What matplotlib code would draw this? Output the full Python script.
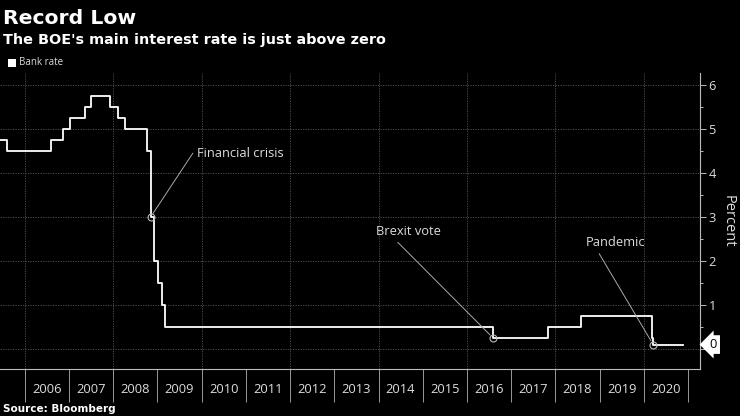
import matplotlib
matplotlib.use("Agg")
import matplotlib.pyplot as plt
import matplotlib.dates as mdates
from matplotlib.ticker import FixedLocator, NullFormatter
import pandas as pd

# Bank of England bank rate, change dates and new levels
change_dates = ["2005-03-01", "2005-08-04", "2006-08-03", "2006-11-09", "2007-01-11",
                "2007-05-10", "2007-07-05", "2007-12-06", "2008-02-07", "2008-04-10",
                "2008-10-08", "2008-11-06", "2008-12-04", "2009-01-08", "2009-02-05",
                "2009-03-05", "2016-08-04", "2017-11-02", "2018-08-02", "2020-03-11",
                "2020-03-19", "2020-11-20"]
bank_rate = [4.75, 4.5, 4.75, 5.0, 5.25, 5.5, 5.75, 5.5, 5.25, 5.0,
             4.5, 3.0, 2.0, 1.5, 1.0, 0.5, 0.25, 0.5, 0.75, 0.25, 0.1, 0.1]

years = list(range(2006, 2021))
y_ticks = [0, 1, 2, 3, 4, 5, 6]
y_labels = ["", "1", "2", "3", "4", "5", "6"]

# events: label, date of marked point, rate at that point
events = ["Financial crisis", "Brexit vote", "Pandemic"]
event_dates = ["2008-11-06", "2016-08-04", "2020-03-19"]
event_rates = [3.0, 0.25, 0.1]

dates = pd.to_datetime(change_dates)
ev_dates = pd.to_datetime(event_dates)

fg = "#dddddd"
grid_c = "#555555"
plt.rcParams['font.family'] = ['Open Sans', 'DejaVu Sans']

fig = plt.figure(figsize=(7.4, 4.16), dpi=100, facecolor="black")
ax = fig.add_axes([0.0, 0.113, 0.946, 0.7115])
ax.set_facecolor("black")

ax.step(dates, bank_rate, where="post", color="white", lw=1.3, zorder=3)
ax.plot(ev_dates, event_rates, "o", ms=5, mfc="none", mec="#bbbbbb", mew=0.8, zorder=4)

# annotation text positions (layout only)
text_pos = [(pd.Timestamp("2009-11-25"), 4.45, "left", (0, 1)),
            (pd.Timestamp("2014-09-01"), 2.68, "center", (0.27, 0)),
            (pd.Timestamp("2019-05-15"), 2.43, "center", (0.17, 0))]
for lab, d, r, (tx, ty, ha, rp) in zip(events, ev_dates, event_rates, text_pos):
    ax.annotate(lab, xy=(d, r), xytext=(tx, ty), ha=ha, va="center",
                color=fg, fontsize=9.3,
                arrowprops=dict(arrowstyle="-", color="#aaaaaa", lw=0.7,
                                relpos=rp, shrinkA=2, shrinkB=3))

ax.set_xlim(pd.Timestamp("2005-06-10"), pd.Timestamp("2021-04-10"))
ax.set_ylim(-0.455, 6.27)

# year separators (major) and centred labels (minor)
year_starts = [pd.Timestamp(f"{y}-01-01") for y in years + [years[-1] + 1]]
year_mids = [pd.Timestamp(f"{y}-07-02") for y in years]
ax.xaxis.set_major_locator(FixedLocator(mdates.date2num(year_starts)))
ax.xaxis.set_major_formatter(NullFormatter())
ax.xaxis.set_minor_locator(FixedLocator(mdates.date2num(year_mids)))
ax.xaxis.set_minor_formatter(plt.FuncFormatter(lambda v, p: str(mdates.num2date(v).year)))
ax.tick_params(axis="x", which="major", length=24, width=0.7, color="#999999", direction="out")
ax.tick_params(axis="x", which="minor", length=0, labelsize=9.3, labelcolor=fg, pad=10)

ax.yaxis.tick_right()
ax.yaxis.set_label_position("right")
ax.set_yticks(y_ticks)
ax.set_yticklabels(y_labels)
ax.set_yticks([0.5, 1.5, 2.5, 3.5, 4.5, 5.5], minor=True)
ax.tick_params(axis="y", which="major", length=4, width=0.7, color="#bbbbbb",
               labelsize=9.3, labelcolor=fg, pad=2)
ax.tick_params(axis="y", which="minor", length=2, width=0.7, color="#bbbbbb")
ax.set_ylabel("Percent", color=fg, fontsize=10.5, rotation=-90, labelpad=14)

# grid: horizontal every unit, vertical every two years
for y in y_ticks:
    ax.axhline(y, color=grid_c, lw=0.6, ls=(0, (1.5, 1.5)), zorder=1)
for y in years[::2]:
    ax.axvline(pd.Timestamp(f"{y}-01-01"), color=grid_c, lw=0.6, ls=(0, (1.5, 1.5)), zorder=1)

for s in ["top", "left"]:
    ax.spines[s].set_visible(False)
for s in ["right", "bottom"]:
    ax.spines[s].set_color("#bbbbbb")
    ax.spines[s].set_linewidth(0.8)

# last value tag
ax.annotate("0", xy=(1.0, bank_rate[-1]), xycoords=("axes fraction", "data"),
            xytext=(7, 0), textcoords="offset points", ha="left", va="center",
            color="black", fontsize=9.3, annotation_clip=False, zorder=6,
            bbox=dict(boxstyle="larrow,pad=0.22", fc="white", ec="none"))

fig.text(0.004, 0.955, "Record Low", color="white", fontsize=14.7,
         fontweight="bold", family="DejaVu Sans", va="center")
fig.text(0.004, 0.905, "The BOE's main interest rate is just above zero", color="white",
         fontsize=10.4, fontweight="bold", family="DejaVu Sans", va="center")
fig.patches.append(plt.Rectangle((0.011, 0.839), 0.0108, 0.019, transform=fig.transFigure,
                                 fc="white", ec="none"))
fig.text(0.026, 0.849, "Bank rate", color=fg, fontsize=7, va="center")
fig.text(0.004, 0.017, "Source: Bloomberg", color="white", fontsize=7.5,
         fontweight="bold", family="DejaVu Sans", va="center")

fig.savefig("out.png", dpi=100, facecolor="black")
